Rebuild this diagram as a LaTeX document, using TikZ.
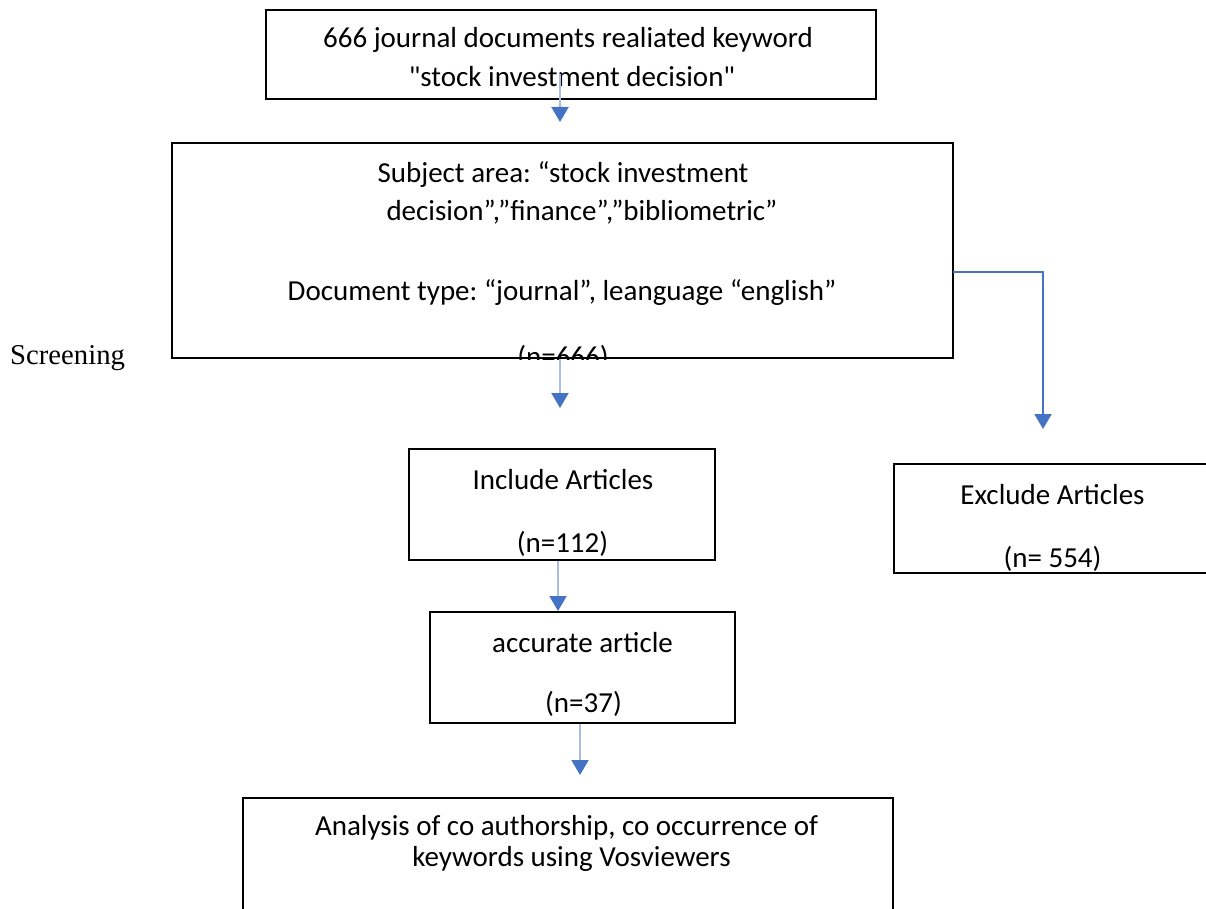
\documentclass[tikz,border=0pt]{standalone}
\usepackage{fontspec}
\setmainfont{Carlito}[Ligatures=TeXOff]
\newfontfamily\screenfont{Liberation Serif}
\usetikzlibrary{arrows.meta}
\definecolor{tipblue}{HTML}{4472C4}
\definecolor{paleblue}{HTML}{A9BDE5}
\frenchspacing
\begin{document}
\begin{tikzpicture}[x=1pt,y=-1pt,
  box/.style={draw=black, line width=2.6pt, inner sep=0pt},
  txt/.style={font=\fontsize{29}{35}\selectfont, inner sep=0pt, anchor=base},
  flow/.style={draw=paleblue, line width=2pt,
    -{Triangle[width=17pt,length=15pt,color=tipblue]}},
  side/.style={draw=tipblue, line width=2pt,
    -{Triangle[width=17pt,length=15pt]}},
]
\useasboundingbox (0,0) rectangle (1206,909);

% boxes
\node[box, minimum width=610pt, minimum height=89pt]  (top)  at (571,54.5) {};
\node[box, minimum width=781pt, minimum height=215pt] (filt) at (562.5,250.5) {};
\node[box, minimum width=306pt, minimum height=111pt] (inc)  at (562,504.5) {};
\node[box, minimum width=321pt, minimum height=109pt] (exc)  at (1054.5,518.5) {};
\node[box, minimum width=305pt, minimum height=111pt] (acc)  at (582.5,667.5) {};
\node[box, minimum width=650pt, minimum height=127pt] (ana)  at (568,861.5) {};

% texts
\node[txt] (top1) at (568,48) {666 journal documents realiated keyword};
\node[txt] (top2) at (572,87) {"stock investment decision"};

\node[txt] (filt1) at (563,183) {Subject area: “stock investment};
\node[txt] (filt2) at (582,221) {decision”,”finance”,”bibliometric”};
\node[txt] (filt3) at (562,300) {Document type: “journal”, leanguage “english”};
\begin{scope}
  \clip (filt.north west) rectangle (filt.south east);
  \node[txt] (filt4) at (563,366) {(n=666)};
\end{scope}

\node[txt] (inc1) at (563,489) {Include Articles};
\node[txt] (inc2) at (562.5,552) {(n=112)};

\node[txt] (exc1) at (1052.5,504) {Exclude Articles};
\node[txt] (exc2) at (1052.5,567) {(n= 554)};

\node[txt] (acc1) at (582.5,652) {accurate article};
\node[txt] (acc2) at (583.5,712) {(n=37)};

\node[txt] (ana1) at (566.5,835) {Analysis of co authorship, co occurrence of};
\node[txt] (ana2) at (571.5,866) {keywords using Vosviewers};

\node[inner sep=0pt, anchor=base west, font=\screenfont\fontsize{28.7}{34}\selectfont]
  (stage) at (10,364) {Screening};

% connector ends
\coordinate (s1)   at (560,74);
\coordinate (e1)   at (560,122);
\coordinate (e2)   at (560,408);
\coordinate (e3)   at (558,611);
\coordinate (e4)   at (580,775);
\coordinate (fork) at (953,272);
\coordinate (e5)   at (1043,429);

% connectors
\draw[flow] (s1) -- (e1);
\draw[flow] (e2 |- filt.south) -- (e2);
\draw[flow] (e3 |- inc.south) -- (e3);
\draw[flow] (e4 |- acc.south) -- (e4);
\draw[side] (fork) -| (e5);
\end{tikzpicture}
\end{document}
